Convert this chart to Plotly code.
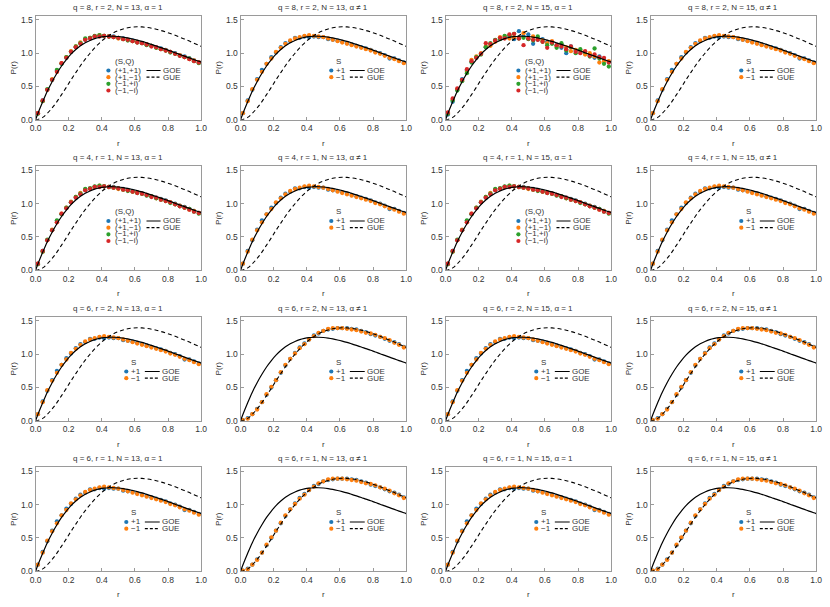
import plotly.graph_objects as go

# bin centres of the histogram (35 bins on [0, 1])
r_bins = [0.014, 0.043, 0.071, 0.100, 0.129, 0.157, 0.186, 0.214, 0.243, 0.271,
          0.300, 0.329, 0.357, 0.386, 0.414, 0.443, 0.471, 0.500, 0.529, 0.557,
          0.586, 0.614, 0.643, 0.671, 0.700, 0.729, 0.757, 0.786, 0.814, 0.843,
          0.871, 0.900, 0.929, 0.957, 0.986]

# reference curves (values read at 0, the bin centres, 1)
r_curve = [0.0] + r_bins + [1.0]
goe_curve = [0.0, 0.094, 0.271, 0.430, 0.572, 0.698, 0.808, 0.904, 0.985, 1.054, 1.110,
             1.156, 1.191, 1.218, 1.237, 1.249, 1.254, 1.254, 1.250, 1.241, 1.229,
             1.213, 1.196, 1.176, 1.155, 1.132, 1.108, 1.083, 1.058, 1.032, 1.007,
             0.981, 0.955, 0.929, 0.904, 0.878, 0.866]
gue_curve = [0.0, 0.004, 0.037, 0.097, 0.178, 0.273, 0.378, 0.488, 0.600, 0.708, 0.812,
             0.910, 0.999, 1.080, 1.151, 1.212, 1.263, 1.306, 1.339, 1.364, 1.382,
             1.392, 1.396, 1.394, 1.386, 1.375, 1.359, 1.340, 1.318, 1.294, 1.268,
             1.240, 1.211, 1.181, 1.150, 1.118, 1.103]

# (S,Q) sectors, GOE-like panels
sq_pp = [0.10, 0.29, 0.45, 0.60, 0.74, 0.84, 0.93, 1.02, 1.09, 1.15, 1.20, 1.23, 1.25, 1.26, 1.26, 1.25, 1.25, 1.23,
         1.22, 1.20, 1.19, 1.17, 1.15, 1.13, 1.11, 1.09, 1.07, 1.05, 1.02, 1.00, 0.97, 0.95, 0.92, 0.89, 0.86]
sq_pm = [0.10, 0.28, 0.45, 0.61, 0.72, 0.85, 0.94, 1.03, 1.10, 1.16, 1.21, 1.23, 1.25, 1.27, 1.26, 1.25, 1.24, 1.22,
         1.21, 1.20, 1.18, 1.17, 1.15, 1.13, 1.11, 1.08, 1.06, 1.04, 1.02, 0.99, 0.97, 0.94, 0.91, 0.89, 0.86]
sq_mp = [0.09, 0.28, 0.46, 0.60, 0.75, 0.84, 0.94, 1.02, 1.10, 1.15, 1.22, 1.23, 1.26, 1.27, 1.26, 1.25, 1.24, 1.23,
         1.21, 1.19, 1.18, 1.16, 1.15, 1.12, 1.11, 1.08, 1.06, 1.04, 1.01, 0.99, 0.96, 0.94, 0.92, 0.88, 0.85]
sq_mm = [0.10, 0.29, 0.45, 0.60, 0.72, 0.85, 0.93, 1.02, 1.09, 1.14, 1.20, 1.22, 1.25, 1.25, 1.26, 1.25, 1.24, 1.23,
         1.21, 1.20, 1.18, 1.16, 1.15, 1.13, 1.10, 1.09, 1.06, 1.04, 1.02, 0.99, 0.96, 0.94, 0.91, 0.88, 0.86]

# (S,Q) sectors, q=8 r=2 N=15 (noisier)
n_pp = [0.08, 0.27, 0.45, 0.61, 0.74, 0.87, 0.93, 0.99, 1.09, 1.13, 1.19, 1.22, 1.24, 1.25, 1.21, 1.33, 1.25, 1.28,
        1.14, 1.20, 1.21, 1.17, 1.16, 1.12, 1.08, 1.00, 1.10, 1.04, 1.02, 0.99, 0.97, 0.93, 0.95, 0.90, 0.87]
n_pm = [0.10, 0.30, 0.46, 0.59, 0.72, 0.90, 0.95, 1.00, 1.10, 1.11, 1.17, 1.24, 1.25, 1.22, 1.24, 1.23, 1.30, 1.22,
        1.25, 1.21, 1.19, 1.15, 1.18, 1.10, 1.13, 1.09, 1.03, 1.05, 1.04, 0.98, 1.00, 0.95, 0.86, 0.88, 0.88]
n_mp = [0.09, 0.29, 0.44, 0.58, 0.70, 0.86, 0.94, 0.98, 1.09, 1.15, 1.20, 1.21, 1.26, 1.27, 1.29, 1.22, 1.23, 1.21,
        1.19, 1.25, 1.17, 1.12, 1.14, 1.08, 1.15, 1.04, 1.09, 1.00, 1.06, 1.02, 0.95, 1.07, 0.92, 0.84, 0.80]
n_mm = [0.11, 0.32, 0.47, 0.60, 0.76, 0.88, 0.93, 0.99, 1.15, 1.14, 1.19, 1.23, 1.22, 1.28, 1.29, 1.22, 1.12, 1.22,
        1.20, 1.20, 1.17, 1.08, 1.16, 1.12, 1.10, 1.06, 1.10, 1.02, 1.00, 1.03, 0.96, 0.98, 0.94, 0.93, 0.86]

# S sectors, GOE-like panels
goe_sp = [0.10, 0.29, 0.45, 0.61, 0.75, 0.84, 0.94, 1.01, 1.09, 1.15, 1.18, 1.23, 1.23, 1.25, 1.24, 1.25, 1.24, 1.24,
          1.21, 1.20, 1.19, 1.17, 1.15, 1.13, 1.11, 1.09, 1.07, 1.05, 1.02, 1.00, 0.97, 0.92, 0.92, 0.89, 0.86]
goe_sm = [0.10, 0.28, 0.46, 0.60, 0.72, 0.84, 0.92, 1.02, 1.08, 1.14, 1.19, 1.22, 1.24, 1.26, 1.27, 1.26, 1.25, 1.24,
          1.22, 1.20, 1.18, 1.16, 1.14, 1.12, 1.10, 1.08, 1.06, 1.04, 1.01, 0.99, 0.96, 0.93, 0.91, 0.88, 0.85]

# S sectors, GUE-like panels
gue_sp = [0.01, 0.04, 0.10, 0.18, 0.28, 0.39, 0.50, 0.61, 0.72, 0.83, 0.93, 1.02, 1.10, 1.16, 1.22, 1.28, 1.31, 1.35,
          1.37, 1.38, 1.39, 1.39, 1.39, 1.38, 1.37, 1.35, 1.33, 1.30, 1.28, 1.26, 1.23, 1.20, 1.18, 1.15, 1.11]
gue_sm = [0.01, 0.03, 0.10, 0.17, 0.28, 0.40, 0.51, 0.61, 0.73, 0.84, 0.93, 1.01, 1.09, 1.15, 1.22, 1.27, 1.32, 1.35,
          1.38, 1.39, 1.39, 1.39, 1.38, 1.37, 1.36, 1.34, 1.32, 1.31, 1.29, 1.26, 1.24, 1.21, 1.17, 1.14, 1.10]

sq_labels = ["(+1,+1)", "(+1,\u22121)", "(\u22121,+i)", "(\u22121,\u2212i)"]
s_labels = ["+1", "\u22121"]
colors = ["#1f77b4", "#ff7f0e", "#2ca02c", "#d62728"]

panels = [
    ("q = 8, r = 2, N = 13, \u03b1 = 1", [sq_pp, sq_pm, sq_mp, sq_mm]),
    ("q = 8, r = 2, N = 13, \u03b1 \u2260 1", [goe_sp, goe_sm]),
    ("q = 8, r = 2, N = 15, \u03b1 = 1", [n_pp, n_pm, n_mp, n_mm]),
    ("q = 8, r = 2, N = 15, \u03b1 \u2260 1", [goe_sp, goe_sm]),
    ("q = 4, r = 1, N = 13, \u03b1 = 1", [sq_pp, sq_pm, sq_mp, sq_mm]),
    ("q = 4, r = 1, N = 13, \u03b1 \u2260 1", [goe_sp, goe_sm]),
    ("q = 4, r = 1, N = 15, \u03b1 = 1", [sq_pp, sq_pm, sq_mp, sq_mm]),
    ("q = 4, r = 1, N = 15, \u03b1 \u2260 1", [goe_sp, goe_sm]),
    ("q = 6, r = 2, N = 13, \u03b1 = 1", [goe_sp, goe_sm]),
    ("q = 6, r = 2, N = 13, \u03b1 \u2260 1", [gue_sp, gue_sm]),
    ("q = 6, r = 2, N = 15, \u03b1 = 1", [goe_sp, goe_sm]),
    ("q = 6, r = 2, N = 15, \u03b1 \u2260 1", [gue_sp, gue_sm]),
    ("q = 6, r = 1, N = 13, \u03b1 = 1", [goe_sp, goe_sm]),
    ("q = 6, r = 1, N = 13, \u03b1 \u2260 1", [gue_sp, gue_sm]),
    ("q = 6, r = 1, N = 15, \u03b1 = 1", [goe_sp, goe_sm]),
    ("q = 6, r = 1, N = 15, \u03b1 \u2260 1", [gue_sp, gue_sm]),
]

W, H = 830, 607
FONT = "Liberation Sans"
frame = "#9a9a9a"
LEG_PX = 8            # legend glyph size
LEG_STEP = 0.1        # legend row step in data units (about 6.7 px)


def stacked(lines):
    # one text block; the small base font sets the tight line spacing
    return "<br>".join("<span style='font-size:%spx'>%s</span>" % (LEG_PX, s) for s in lines)


fig = go.Figure()
annotations = []
shapes = []

for k, (title, series) in enumerate(panels, start=1):
    row, col = (k - 1) // 4, (k - 1) % 4
    left, right = 30 + 208 * col, 198 + 208 * col
    top, bottom = 15 + 152 * row, 120 + 152 * row
    sx = "" if k == 1 else str(k)
    xr, yr = "x" + sx, "y" + sx

    for vals, c in zip(series, colors):
        fig.add_trace(go.Scatter(x=r_bins, y=vals, mode="markers", xaxis=xr, yaxis=yr,
                                 marker=dict(color=c, size=4.3), showlegend=False))
    fig.add_trace(go.Scatter(x=r_curve, y=goe_curve, mode="lines", xaxis=xr, yaxis=yr,
                             line=dict(color="black", width=1.2, shape="spline"), showlegend=False))
    fig.add_trace(go.Scatter(x=r_curve, y=gue_curve, mode="lines", xaxis=xr, yaxis=yr,
                             line=dict(color="black", width=1.1, shape="spline", dash="4px,3px"),
                             showlegend=False))

    ax = dict(range=[0, 1], domain=[left / W, right / W], anchor=yr,
              tickvals=[0, 0.2, 0.4, 0.6, 0.8, 1.0], tickformat=".1f",
              ticks="inside", ticklen=3, tickcolor=frame, showline=True, mirror=True,
              linecolor=frame, linewidth=1, showgrid=False, zeroline=False,
              tickfont=dict(family=FONT, size=8.5, color="#333"))
    ay = dict(range=[0, 1.56], domain=[1 - bottom / H, 1 - top / H], anchor=xr,
              tickvals=[0, 0.5, 1.0, 1.5], tickformat=".1f",
              ticks="inside", ticklen=3, tickcolor=frame, showline=True, mirror=True,
              linecolor=frame, linewidth=1, showgrid=False, zeroline=False,
              tickfont=dict(family=FONT, size=8.5, color="#333"))
    fig.update_layout({"xaxis" + sx: ax, "yaxis" + sx: ay})

    txt = dict(family=FONT, size=8, color="#333")
    annotations.append(dict(text=title, xref=xr + " domain", yref=yr + " domain", x=0.5, y=1,
                            xanchor="center", yanchor="bottom", yshift=2, showarrow=False, font=txt))
    annotations.append(dict(text="r", xref=xr + " domain", yref=yr + " domain", x=0.5, y=0,
                            xanchor="center", yanchor="top", yshift=-17, showarrow=False, font=txt))
    annotations.append(dict(text="P(r)", xref=xr + " domain", yref=yr + " domain", x=0, y=0.5,
                            xanchor="center", yanchor="middle", xshift=-22, textangle=-90,
                            showarrow=False, font=txt))

    # in-panel legend
    if len(series) == 4:
        labels, head, mx, tx, lx0, lx1, ltx = sq_labels, "(S,Q)", 0.44, 0.475, 0.67, 0.755, 0.765
    else:
        labels, head, mx, tx, lx0, lx1, ltx = s_labels, "S", 0.548, 0.568, 0.66, 0.75, 0.76
    y0 = 0.74
    ys = [y0 - LEG_STEP * i for i in range(len(labels))]
    small = dict(family=FONT, size=5.15, color="#333")
    annotations.append(dict(text=head, xref=xr, yref=yr, x=tx, y=0.88, xanchor="left",
                            yanchor="middle", showarrow=False, borderpad=0,
                            font=dict(family=FONT, size=LEG_PX, color="#333")))
    annotations.append(dict(text=stacked(labels), xref=xr, yref=yr, x=tx,
                            y=(ys[0] + ys[-1]) / 2, xanchor="left", yanchor="middle", align="left",
                            showarrow=False, borderpad=0, font=small))
    for c, y in zip(colors, ys):
        shapes.append(dict(type="circle", xref=xr, yref=yr, xsizemode="pixel", ysizemode="pixel",
                           xanchor=mx, yanchor=y, x0=-2.1, x1=2.1, y0=-2.1, y1=2.1,
                           fillcolor=c, line_width=0))
    for y, dash in [(ys[0], "solid"), (ys[0] - LEG_STEP, "3px,2px")]:
        shapes.append(dict(type="line", xref=xr, yref=yr, x0=lx0, x1=lx1, y0=y, y1=y,
                           line=dict(color="black", width=1.2, dash=dash)))
    annotations.append(dict(text=stacked(["GOE", "GUE"]), xref=xr, yref=yr, x=ltx,
                            y=ys[0] - LEG_STEP / 2, xanchor="left", yanchor="middle", align="left",
                            showarrow=False, borderpad=0, font=small))

fig.update_layout(width=W, height=H, margin=dict(l=0, r=0, t=0, b=0),
                  paper_bgcolor="white", plot_bgcolor="white",
                  annotations=annotations, shapes=shapes)

# page body has a default margin; drop it so the figure sits at the window origin
fig.write_html("out.html", config={"displayModeBar": False},
               post_script="document.body.style.margin='0';")
